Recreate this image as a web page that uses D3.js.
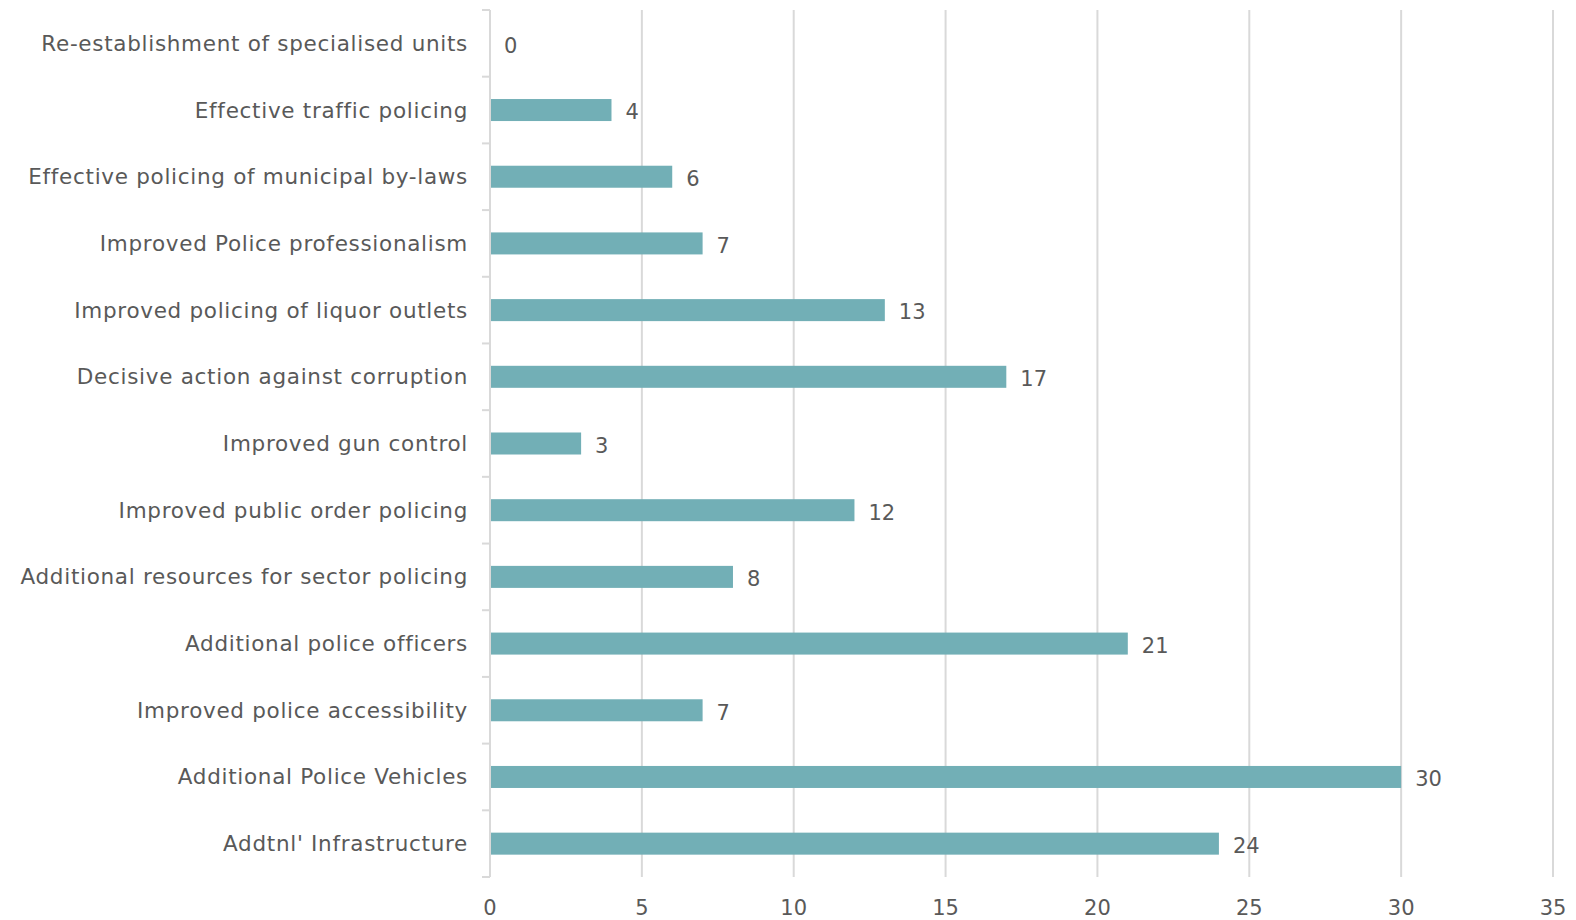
<!DOCTYPE html>
<html><head><meta charset="utf-8">
<script src="https://cdn.jsdelivr.net/npm/d3@7"></script>
<style>body{margin:0;background:#fff}svg{display:block}</style>
</head><body>
<script>
const categories = ["Re-establishment of specialised units","Effective traffic policing","Effective policing of municipal by-laws","Improved Police professionalism","Improved policing of liquor outlets","Decisive action against corruption","Improved gun control","Improved public order policing","Additional resources for sector policing","Additional police officers","Improved police accessibility","Additional Police Vehicles","Addtnl' Infrastructure"];
const values = [0,4,6,7,13,17,3,12,8,21,7,30,24];
const xTicks = [0,5,10,15,20,25,30,35];

const W=1576,H=920;
const m={left:490,right:23,top:10,bottom:43};
const svg=d3.select("body").append("svg").attr("width",W).attr("height",H);
const x=d3.scaleLinear().domain([0,35]).range([m.left,W-m.right]);
const y=d3.scaleBand().domain(categories).range([m.top,H-m.bottom]).paddingInner(0.67).paddingOuter(0.335);
const font="'DejaVu Sans', sans-serif";
const txt="#595959";

// gridlines
svg.append("g").selectAll("line").data(xTicks.slice(1)).join("line")
  .attr("x1",d=>x(d)).attr("x2",d=>x(d)).attr("y1",m.top).attr("y2",H-m.bottom)
  .attr("stroke","#d9d9d9").attr("stroke-width",2);

// bars
svg.append("g").selectAll("rect").data(values).join("rect")
  .attr("x",x(0)).attr("y",(d,i)=>y(categories[i]))
  .attr("width",d=>x(d)-x(0)).attr("height",y.bandwidth())
  .attr("fill","#72afb6");

// y axis
const step=y.step();
const ya=svg.append("g");
ya.append("line").attr("x1",x(0)).attr("x2",x(0)).attr("y1",m.top).attr("y2",H-m.bottom).attr("stroke","#d9d9d9").attr("stroke-width",2);
const bounds=d3.range(categories.length+1).map(i=>m.top+i*step);
ya.selectAll("line.t").data(bounds).join("line").attr("class","t")
  .attr("x1",x(0)-8).attr("x2",x(0)).attr("y1",d=>d).attr("y2",d=>d)
  .attr("stroke","#d9d9d9").attr("stroke-width",2);
ya.selectAll("text").data(categories).join("text")
  .attr("x",x(0)-22).attr("y",d=>y(d)+y.bandwidth()/2).attr("dy","0.35em")
  .attr("text-anchor","end").attr("font-family",font).attr("font-size",21.5)
  .attr("letter-spacing",0.7).attr("fill",txt)
  .text(d=>d);

// x axis labels
svg.append("g").selectAll("text").data(xTicks).join("text")
  .attr("x",d=>x(d)).attr("y",H-m.bottom+31).attr("dy","0.35em")
  .attr("text-anchor","middle").attr("font-family",font).attr("font-size",21).attr("fill",txt)
  .text(d=>d);

// data labels
svg.append("g").selectAll("text").data(values).join("text")
  .attr("x",d=>x(d)+14).attr("y",(d,i)=>y(categories[i])+y.bandwidth()/2+2).attr("dy","0.35em")
  .attr("font-family",font).attr("font-size",21).attr("fill",txt)
  .text(d=>d);
</script>
</body></html>
